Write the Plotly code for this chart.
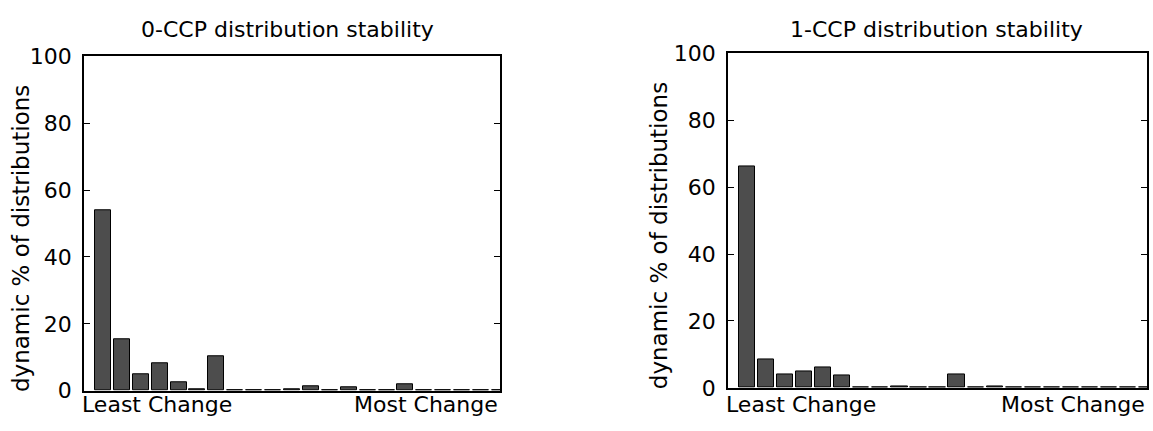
import plotly.graph_objects as go

# ---- data ----
bins = list(range(1, 23))
ccp0_values = [54.0, 15.4, 4.8, 8.2, 2.4, 0.5, 10.2, 0, 0, 0, 0.4, 1.3, 0, 0.9, 0, 0.1, 1.8, 0, 0, 0, 0, 0]
ccp1_values = [66.2, 8.5, 3.9, 4.9, 6.0, 3.6, 0, 0, 0.3, 0.2, 0, 3.9, 0, 0.3, 0, 0, 0, 0, 0, 0, 0, 0]
titles = ["0-CCP distribution stability", "1-CCP distribution stability"]
y_title = "dynamic % of distributions"
x_labels = ["Least Change", "Most Change"]
y_ticks = [0, 20, 40, 60, 80, 100]

W, H = 1153, 431
FONT = "DejaVu Sans"

def px_x(v):
    return v / W

def px_y(v):
    return (H - v) / H

# panel geometry (pixels)
panels = [
    dict(l=84, r=500, t=47, b=402, xt=287.5, yt_x=21, yt_y=241),
    dict(l=728, r=1147, t=44, b=399, xt=936, yt_x=659, yt_y=238),
]

fig = go.Figure()
annotations = []
for i, (vals, p) in enumerate(zip([ccp0_values, ccp1_values], panels)):
    sfx = "" if i == 0 else str(i + 1)
    fig.add_trace(go.Bar(
        x=bins, y=vals, width=0.85,
        marker=dict(color="#4d4d4d", line=dict(color="black", width=1)),
        xaxis="x" + sfx, yaxis="y" + sfx, showlegend=False,
    ))
    xa = dict(domain=[px_x(p["l"]), px_x(p["r"])], range=[0, 22],
              showticklabels=False, ticks="", showgrid=False, zeroline=False,
              showline=True, linecolor="black", linewidth=1.5, mirror=True,
              anchor="y" + sfx)
    ya = dict(domain=[px_y(p["b"]), px_y(p["t"])], range=[0, 100],
              tickvals=y_ticks, ticks="inside", ticklen=6, tickcolor="black",
              tickwidth=1, showgrid=False, zeroline=False,
              showline=True, linecolor="black", linewidth=1.5, mirror="allticks",
              tickfont=dict(family=FONT, size=22, color="black"),
              ticklabelstandoff=6,
              anchor="x" + sfx)
    fig.update_layout(**{"xaxis" + sfx: xa, "yaxis" + sfx: ya})
    annotations.append(dict(text=titles[i], x=px_x(p["xt"]), y=px_y(19),
                            xref="paper", yref="paper", showarrow=False,
                            xanchor="center", yanchor="middle",
                            font=dict(family=FONT, size=22, color="black")))
    annotations.append(dict(text=y_title, x=px_x(p["yt_x"]), y=px_y(p["yt_y"]),
                            xref="paper", yref="paper", showarrow=False,
                            textangle=-90, xanchor="center", yanchor="middle",
                            font=dict(family=FONT, size=23, color="black")))
    annotations.append(dict(text=x_labels[0], x=px_x(p["l"] - 4), y=px_y(417),
                            xref="paper", yref="paper", showarrow=False,
                            xanchor="left", yanchor="middle",
                            font=dict(family=FONT, size=22, color="black")))
    annotations.append(dict(text=x_labels[1], x=px_x(p["r"]), y=px_y(417),
                            xref="paper", yref="paper", showarrow=False,
                            xanchor="right", yanchor="middle",
                            font=dict(family=FONT, size=22, color="black")))

fig.update_layout(width=W, height=H, margin=dict(l=0, r=0, t=0, b=0),
                  paper_bgcolor="white", plot_bgcolor="white",
                  bargap=0, annotations=annotations)
fig.write_html("out.html")
